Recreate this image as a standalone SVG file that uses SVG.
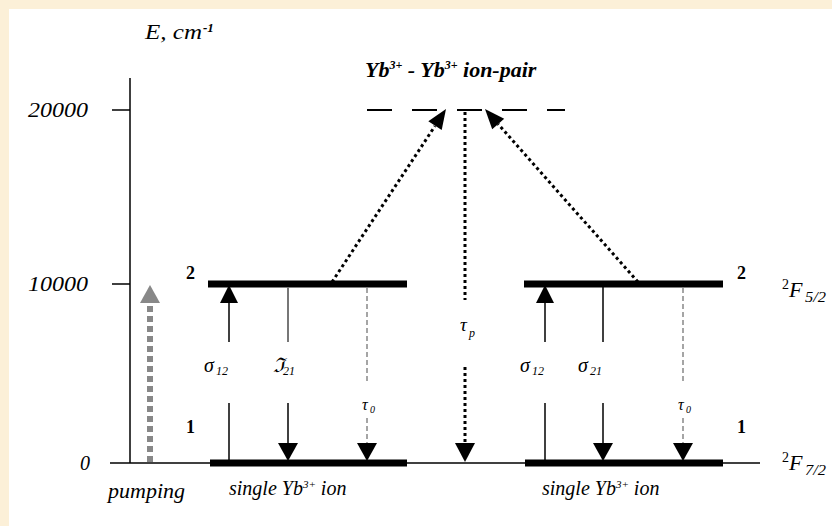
<svg xmlns="http://www.w3.org/2000/svg" width="832" height="526" viewBox="0 0 832 526">
<style>
text{font-family:"Liberation Serif","Times New Roman",serif;fill:#000}
.it{font-style:italic}
.lvl{font-weight:bold;font-size:18px}
.bar{stroke:#000;stroke-width:7;fill:none}
.thin{stroke:#000;stroke-width:1.5;fill:none}
.dot{stroke:#000;stroke-width:3;stroke-dasharray:3 3;fill:none}
.dash{stroke:#888;stroke-width:1.5;stroke-dasharray:5 3;fill:none}
.head{fill:#000}
.sig{font-style:italic;font-size:20px}
.sub{font-style:italic;font-size:12px}
</style>
<rect x="0" y="0" width="832" height="526" fill="#FCF0D8"/>
<rect x="9" y="9" width="823" height="517" fill="#FFFFFF"/>

<g id="axis">
<line x1="130" y1="78" x2="130" y2="463" class="thin"/>
<line x1="112" y1="110" x2="130" y2="110" class="thin"/>
<line x1="112" y1="284" x2="130" y2="284" class="thin"/>
<line x1="110" y1="463" x2="760" y2="463" class="thin"/>
<text x="145" y="39" class="it" font-size="21" textLength="57" lengthAdjust="spacingAndGlyphs">E, cm</text>
<text x="203" y="32" class="it" font-size="13" font-weight="bold">-1</text>
<text x="28" y="117" class="it" font-size="20" textLength="60" lengthAdjust="spacingAndGlyphs">20000</text>
<text x="28" y="291" class="it" font-size="20" textLength="60" lengthAdjust="spacingAndGlyphs">10000</text>
<text x="80" y="470" class="it" font-size="20">0</text>
</g>

<g id="pair-level">
<line x1="367" y1="110" x2="565" y2="110" stroke="#000" stroke-width="2" stroke-dasharray="25 20"/>
<text x="365" y="77" class="it" font-weight="bold" font-size="22">Yb<tspan dy="-8" font-size="12">3+</tspan><tspan dy="8"> - Yb</tspan><tspan dy="-8" font-size="12">3+</tspan><tspan dy="8"> ion-pair</tspan></text>
</g>

<g id="left-ion">
<line x1="208" y1="284" x2="407" y2="284" class="bar"/>
<line x1="210" y1="463" x2="407" y2="463" class="bar"/>
<text x="186" y="279" class="lvl">2</text>
<text x="186" y="433" class="lvl">1</text>
<text x="229" y="495" class="it" font-size="20">single Yb<tspan dy="-7" font-size="11">3+</tspan><tspan dy="7"> ion</tspan></text>
</g>

<g id="right-ion">
<line x1="524" y1="284" x2="723" y2="284" class="bar"/>
<line x1="525" y1="463" x2="723" y2="463" class="bar"/>
<text x="737" y="279" class="lvl">2</text>
<text x="737" y="433" class="lvl">1</text>
<text x="542" y="495" class="it" font-size="20">single Yb<tspan dy="-7" font-size="11">3+</tspan><tspan dy="7"> ion</tspan></text>
<text x="782" y="289" font-size="14">2</text>
<text x="789" y="297" class="it" font-size="22">F</text>
<text x="805" y="302" class="it" font-size="14" textLength="21" lengthAdjust="spacingAndGlyphs">5/2</text>
<text x="782" y="462" font-size="14">2</text>
<text x="789" y="470" class="it" font-size="22">F</text>
<text x="805" y="475" class="it" font-size="14" textLength="21" lengthAdjust="spacingAndGlyphs">7/2</text>
</g>

<g id="pumping">
<line x1="150" y1="462" x2="150" y2="303" stroke="#888" stroke-width="6" stroke-dasharray="6 4"/>
<polygon points="150,285 140,303 160,303" fill="#888"/>
<text x="108" y="498" class="it" font-size="22">pumping</text>
</g>

<g id="connectors">
<!-- left ion -->
<line x1="229" y1="302" x2="229" y2="342" class="thin"/>
<line x1="229" y1="403" x2="229" y2="463" class="thin"/>
<polygon points="229,285 220,303 238,303" class="head"/>
<text x="204" y="372" class="sig">σ</text><text x="216" y="375" class="sub">12</text>

<line x1="288" y1="287" x2="288" y2="342" stroke="#777" stroke-width="2"/>
<line x1="288" y1="403" x2="288" y2="444" class="thin"/>
<polygon points="288,461 278,443 298,443" class="head"/>
<text x="273" y="372" class="sig">ℑ</text><text x="283" y="375" class="sub">21</text>

<line x1="367" y1="288" x2="367" y2="382" class="dash"/>
<line x1="367" y1="418" x2="367" y2="444" class="dash"/>
<polygon points="367,461 357,443 377,443" class="head"/>
<text x="362" y="410" class="it" font-size="16">τ</text><text x="370" y="413" class="it" font-size="10">0</text>

<!-- right ion -->
<line x1="545" y1="302" x2="545" y2="342" class="thin"/>
<line x1="545" y1="403" x2="545" y2="463" class="thin"/>
<polygon points="545,285 536,303 554,303" class="head"/>
<text x="520" y="372" class="sig">σ</text><text x="532" y="375" class="sub">12</text>

<line x1="603" y1="287" x2="603" y2="342" class="thin"/>
<line x1="603" y1="403" x2="603" y2="444" class="thin"/>
<polygon points="603,461 593,443 613,443" class="head"/>
<text x="578" y="372" class="sig">σ</text><text x="590" y="375" class="sub">21</text>

<line x1="683" y1="288" x2="683" y2="382" class="dash"/>
<line x1="683" y1="418" x2="683" y2="444" class="dash"/>
<polygon points="683,461 673,443 693,443" class="head"/>
<text x="678" y="410" class="it" font-size="16">τ</text><text x="686" y="413" class="it" font-size="10">0</text>

<!-- ion pair -->
<line x1="332" y1="282" x2="435" y2="126" class="dot"/>
<polygon points="446,109 441.7,130.1 428.3,121.3" class="head"/>
<line x1="638" y1="282" x2="498" y2="124" class="dot"/>
<polygon points="485,109 504.2,118.7 492.2,129.3" class="head"/>

<line x1="465" y1="112" x2="465" y2="300" class="dot"/>
<line x1="465" y1="367" x2="465" y2="444" class="dot"/>
<polygon points="465,462 455,443 475,443" class="head"/>
<text x="460" y="331" class="it" font-size="19">τ</text><text x="469" y="337" class="it" font-size="12">p</text>
</g>
</svg>
